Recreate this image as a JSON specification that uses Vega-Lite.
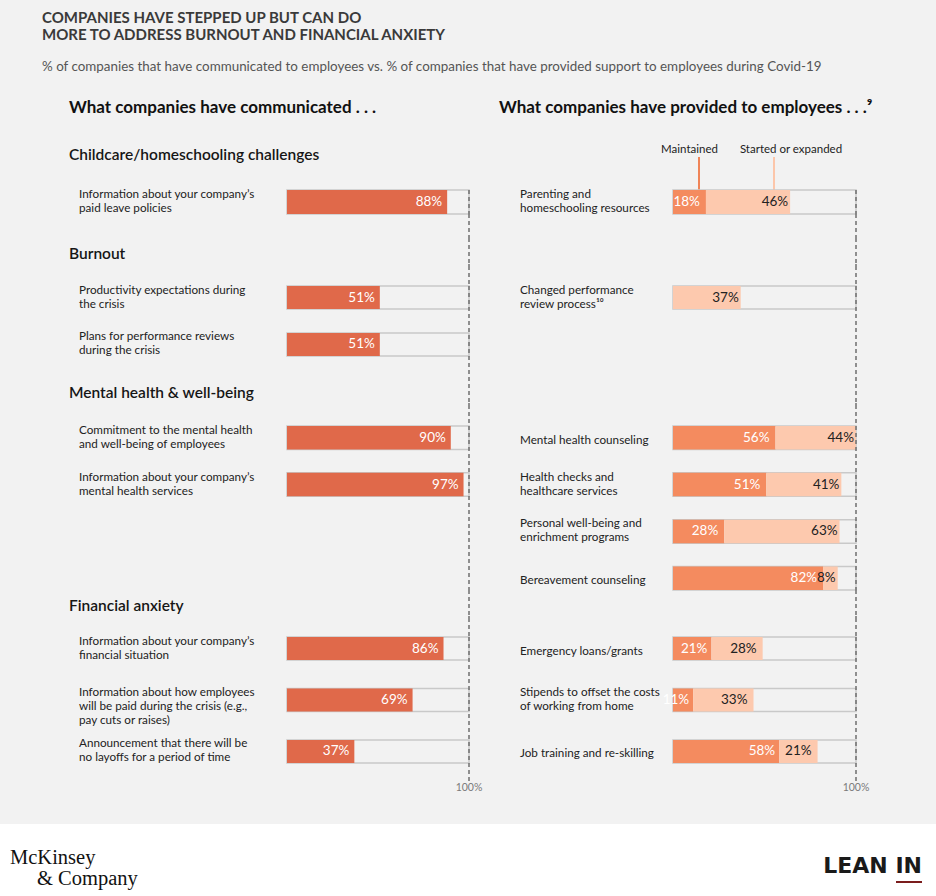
{
"$schema":"https://vega.github.io/schema/vega-lite/v6.json",
"background":"#f2f2f2","padding":0,"spacing":0,"bounds":"flush",
"config":{"view":{"stroke":null},"axis":{"disable":true},"legend":{"disable":true},"text":{"font":"Lato"}},
"datasets":{
"left":[
{"sec":"cc","row":"cc1","label":"Information about your company’s\npaid leave policies","value":0.88},
{"sec":"bo","row":"bo1","label":"Productivity expectations during\nthe crisis","value":0.51},
{"sec":"bo","row":"bo2","label":"Plans for performance reviews\nduring the crisis","value":0.51},
{"sec":"mh","row":"mh1","label":"Commitment to the mental health\nand well-being of employees","value":0.90},
{"sec":"mh","row":"mh2","label":"Information about your company’s\nmental health services","value":0.97},
{"sec":"fa","row":"fa1","label":"Information about your company’s\nfinancial situation","value":0.86},
{"sec":"fa","row":"fa2","label":"Information about how employees\nwill be paid during the crisis (e.g.,\npay cuts or raises)","value":0.69},
{"sec":"fa","row":"fa3","label":"Announcement that there will be\nno layoffs for a period of time","value":0.37}],
"right":[
{"sec":"cc","row":"cc1","label":"Parenting and\nhomeschooling resources"},
{"sec":"bo","row":"bo1","label":"Changed performance\nreview process¹⁰"},
{"sec":"mh","row":"mh1","label":"Mental health counseling"},
{"sec":"mh","row":"mh2","label":"Health checks and\nhealthcare services"},
{"sec":"mh","row":"mh3","label":"Personal well-being and\nenrichment programs"},
{"sec":"mh","row":"mh4","label":"Bereavement counseling"},
{"sec":"fa","row":"fa1","label":"Emergency loans/grants"},
{"sec":"fa","row":"fa2","label":"Stipends to offset the costs\nof working from home"},
{"sec":"fa","row":"fa3","label":"Job training and re-skilling"}],
"parts":[
{"sec":"cc","row":"cc1","part":"Maintained","pct":0.18},
{"sec":"cc","row":"cc1","part":"Started or expanded","pct":0.46},
{"sec":"bo","row":"bo1","part":"Started or expanded","pct":0.37},
{"sec":"mh","row":"mh1","part":"Maintained","pct":0.56},
{"sec":"mh","row":"mh1","part":"Started or expanded","pct":0.44},
{"sec":"mh","row":"mh2","part":"Maintained","pct":0.51},
{"sec":"mh","row":"mh2","part":"Started or expanded","pct":0.41},
{"sec":"mh","row":"mh3","part":"Maintained","pct":0.28},
{"sec":"mh","row":"mh3","part":"Started or expanded","pct":0.63},
{"sec":"mh","row":"mh4","part":"Maintained","pct":0.82},
{"sec":"mh","row":"mh4","part":"Started or expanded","pct":0.08},
{"sec":"fa","row":"fa1","part":"Maintained","pct":0.21},
{"sec":"fa","row":"fa1","part":"Started or expanded","pct":0.28},
{"sec":"fa","row":"fa2","part":"Maintained","pct":0.11},
{"sec":"fa","row":"fa2","part":"Started or expanded","pct":0.33},
{"sec":"fa","row":"fa3","part":"Maintained","pct":0.58},
{"sec":"fa","row":"fa3","part":"Started or expanded","pct":0.21}]
},
"vconcat":[
{"width":936,"height":53,"data":{"values":[{"t":"COMPANIES HAVE STEPPED UP BUT CAN DO\nMORE TO ADDRESS BURNOUT AND FINANCIAL ANXIETY"}]},
 "mark":{"type":"text","align":"left","baseline":"middle","dy":-8.5,"lineBreak":"\n","lineHeight":17,"fontSize":15,"fontWeight":"bold","color":"#3a3a3a"},
 "encoding":{"x":{"datum":-1.34615,"type":"quantitative","scale":{"domain":[-1.576923,3.565934],"nice":false,"zero":false},"axis":null},"text":{"field":"t","type":"nominal"}}},
{"width":936,"height":2,"data":{"values":[{}]},"mark":{"type":"bar","color":"#858585"},
 "encoding":{"x":{"datum":-1.34615,"type":"quantitative","scale":{"domain":[-1.576923,3.565934],"nice":false,"zero":false},"axis":null},"x2":{"datum":3.36813}}},
{"width":936,"height":24,"data":{"values":[{"t":"% of companies that have communicated to employees vs. % of companies that have provided support to employees during Covid-19"}]},
 "mark":{"type":"text","align":"left","baseline":"middle","fontSize":13.4,"color":"#555555"},
 "encoding":{"x":{"datum":-1.34615,"type":"quantitative","scale":{"domain":[-1.576923,3.565934],"nice":false,"zero":false},"axis":null},"text":{"field":"t","type":"nominal"}}},
{"width":936,"height":60,"resolve":{"scale":{"x":"independent"}},"data":{"values":[{"l":"What companies have communicated . . .","r":"What companies have provided to employees . . .⁹"}]},
 "layer":[
 {"mark":{"type":"text","align":"left","baseline":"middle","dy":-1,"fontSize":17,"fontWeight":"bold","color":"#111111"},
  "encoding":{"x":{"datum":-1.1978,"type":"quantitative","scale":{"domain":[-1.576923,3.565934],"nice":false,"zero":false},"axis":null},"text":{"field":"l","type":"nominal"}}},
 {"mark":{"type":"text","align":"left","baseline":"middle","dy":-1,"fontSize":17,"fontWeight":"bold","color":"#111111"},
  "encoding":{"x":{"datum":-0.95082,"type":"quantitative","scale":{"domain":[-3.677596,1.437158],"nice":false,"zero":false},"axis":null},"text":{"field":"r","type":"nominal"}}}]},
{"width":936,"height":18,"resolve":{"scale":{"x":"independent"}},
 "layer":[
 {"data":{"values":[{"section":"Childcare/homeschooling challenges"}]},"mark":{"type":"text","align":"left","baseline":"middle","dy":7,"fontSize":15.5,"fontWeight":600,"color":"#161616"},
  "encoding":{"x":{"datum":-1.1978,"type":"quantitative","scale":{"domain":[-1.576923,3.565934],"nice":false,"zero":false},"axis":null},"text":{"field":"section","type":"nominal"}}},
 {"data":{"values":[{"part":"Maintained"}]},"mark":{"type":"text","align":"center","baseline":"middle","dy":2,"fontSize":11.5,"color":"#222222"},
  "encoding":{"x":{"datum":0.0902,"type":"quantitative","scale":{"domain":[-3.677596,1.437158],"nice":false,"zero":false},"axis":null},"text":{"field":"part","type":"nominal"}}},
 {"data":{"values":[{"part":"Started or expanded"}]},"mark":{"type":"text","align":"center","baseline":"middle","dy":2,"fontSize":11.5,"color":"#222222"},
  "encoding":{"x":{"datum":0.6448,"type":"quantitative","scale":{"domain":[-3.677596,1.437158],"nice":false,"zero":false},"axis":null},"text":{"field":"part","type":"nominal"}}}]},
{"width":936,"height":8,"resolve":{"scale":{"x":"independent"}},"data":{"values":[{}]},
 "layer":[
 {"mark":{"type":"rule","color":"#f08457","strokeWidth":2},"encoding":{"x":{"datum":0.14208,"type":"quantitative","scale":{"domain":[-3.677596,1.437158],"nice":false,"zero":false},"axis":null}}},
 {"mark":{"type":"rule","color":"#fcc6aa","strokeWidth":2},"encoding":{"x":{"datum":0.55191,"type":"quantitative","scale":{"domain":[-3.677596,1.437158],"nice":false,"zero":false},"axis":null}}}]},
{"width":936,"height":2,"resolve":{"scale":{"x":"independent"}},"data":{"values":[{}]},
 "layer":[
 {"mark":{"type":"bar","color":"#858585"},"encoding":{"x":{"datum":-1.1978,"type":"quantitative","scale":{"domain":[-1.576923,3.565934],"nice":false,"zero":false},"axis":null},"x2":{"datum":3.25824}}},
 {"mark":{"type":"rule","color":"#f08457","strokeWidth":2},"encoding":{"x":{"datum":0.14208,"type":"quantitative","scale":{"domain":[-3.677596,1.437158],"nice":false,"zero":false},"axis":null}}},
 {"mark":{"type":"rule","color":"#fcc6aa","strokeWidth":2},"encoding":{"x":{"datum":0.55191,"type":"quantitative","scale":{"domain":[-3.677596,1.437158],"nice":false,"zero":false},"axis":null}}}]},
{"width":936,"height":23,"resolve":{"scale":{"x":"independent"}},"data":{"values":[{}]},
 "layer":[
 {"mark":{"type":"rule","color":"#f08457","strokeWidth":2},"encoding":{"x":{"datum":0.14208,"type":"quantitative","scale":{"domain":[-3.677596,1.437158],"nice":false,"zero":false},"axis":null}}},
 {"mark":{"type":"rule","color":"#fcc6aa","strokeWidth":2},"encoding":{"x":{"datum":0.55191,"type":"quantitative","scale":{"domain":[-3.677596,1.437158],"nice":false,"zero":false},"axis":null}}}]},
{"width":936,"height":24,"resolve":{"scale":{"x":"independent"}},
 "layer":[
 {"data":{"name":"left"},"transform":[{"filter":{"field":"sec","equal":"cc"}}],"mark":{"type":"bar","fill":"transparent","stroke":"#c9c9c9","strokeWidth":1.5},
  "encoding":{"y":{"field":"row","type":"nominal","scale":{"domain":["cc1"],"paddingInner":0,"paddingOuter":0},"axis":null},"x":{"datum":0,"type":"quantitative","scale":{"domain":[-1.576923,3.565934],"nice":false,"zero":false},"axis":null},"x2":{"datum":1}}},
 {"data":{"name":"left"},"transform":[{"filter":{"field":"sec","equal":"cc"}}],"mark":{"type":"bar","color":"#e0694a"},
  "encoding":{"y":{"field":"row","type":"nominal","scale":{"domain":["cc1"],"paddingInner":0,"paddingOuter":0},"axis":null},"x":{"field":"value","type":"quantitative","scale":{"domain":[-1.576923,3.565934],"nice":false,"zero":false},"axis":null}}},
 {"data":{"name":"left"},"transform":[{"filter":{"field":"sec","equal":"cc"}}],"mark":{"type":"text","align":"right","baseline":"middle","dx":-5,"fontSize":13.5,"color":"#ffffff"},
  "encoding":{"y":{"field":"row","type":"nominal","scale":{"domain":["cc1"],"paddingInner":0,"paddingOuter":0},"axis":null},"x":{"field":"value","type":"quantitative","scale":{"domain":[-1.576923,3.565934],"nice":false,"zero":false},"axis":null},"text":{"field":"value","type":"quantitative","format":".0%"}}},
 {"data":{"name":"left"},"transform":[{"filter":{"field":"sec","equal":"cc"}}],"mark":{"type":"text","align":"left","baseline":"middle","dy":-8,"fontSize":11.7,"lineHeight":14,"lineBreak":"\n","color":"#222222"},
  "encoding":{"y":{"field":"row","type":"nominal","scale":{"domain":["cc1"],"paddingInner":0,"paddingOuter":0},"axis":null},"x":{"datum":-1.14286,"type":"quantitative","scale":{"domain":[-1.576923,3.565934],"nice":false,"zero":false},"axis":null},"text":{"field":"label","type":"nominal"}}},
 {"data":{"name":"right"},"transform":[{"filter":{"field":"sec","equal":"cc"}}],"mark":{"type":"bar","fill":"transparent","stroke":"#c9c9c9","strokeWidth":1.5},
  "encoding":{"y":{"field":"row","type":"nominal","scale":{"domain":["cc1"],"paddingInner":0,"paddingOuter":0},"axis":null},"x":{"datum":0,"type":"quantitative","scale":{"domain":[-3.677596,1.437158],"nice":false,"zero":false},"axis":null},"x2":{"datum":1}}},
 {"data":{"name":"parts"},"transform":[{"filter":{"field":"sec","equal":"cc"}}],"mark":{"type":"bar"},
  "encoding":{"y":{"field":"row","type":"nominal","scale":{"domain":["cc1"],"paddingInner":0,"paddingOuter":0},"axis":null},"x":{"field":"pct","type":"quantitative","stack":"zero","scale":{"domain":[-3.677596,1.437158],"nice":false,"zero":false},"axis":null},"color":{"field":"part","type":"nominal","scale":{"domain":["Maintained","Started or expanded"],"range":["#f48b5f","#fdc9ae"]},"legend":null},"order":{"field":"part","type":"ordinal","sort":"ascending"}}},
 {"data":{"name":"parts"},"transform":[{"filter":{"field":"sec","equal":"cc"}},{"stack":"pct","groupby":["row"],"sort":[{"field":"part","order":"ascending"}],"as":["s0","s1"]},{"filter":{"field":"part","equal":"Maintained"}}],"mark":{"type":"text","align":"right","baseline":"middle","dx":-6,"fontSize":13.5,"color":"#ffffff"},
  "encoding":{"y":{"field":"row","type":"nominal","scale":{"domain":["cc1"],"paddingInner":0,"paddingOuter":0},"axis":null},"x":{"field":"s1","type":"quantitative","scale":{"domain":[-3.677596,1.437158],"nice":false,"zero":false},"axis":null},"text":{"field":"pct","type":"quantitative","format":".0%"}}},
 {"data":{"name":"parts"},"transform":[{"filter":{"field":"sec","equal":"cc"}},{"stack":"pct","groupby":["row"],"sort":[{"field":"part","order":"ascending"}],"as":["s0","s1"]},{"filter":{"field":"part","equal":"Started or expanded"}}],"mark":{"type":"text","align":"right","baseline":"middle","dx":-2,"fontSize":13.5,"color":"#222222"},
  "encoding":{"y":{"field":"row","type":"nominal","scale":{"domain":["cc1"],"paddingInner":0,"paddingOuter":0},"axis":null},"x":{"field":"s1","type":"quantitative","scale":{"domain":[-3.677596,1.437158],"nice":false,"zero":false},"axis":null},"text":{"field":"pct","type":"quantitative","format":".0%"}}},
 {"data":{"name":"right"},"transform":[{"filter":{"field":"sec","equal":"cc"}}],"mark":{"type":"text","align":"left","baseline":"middle","dy":-8,"fontSize":11.7,"lineHeight":14,"lineBreak":"\n","color":"#222222"},
  "encoding":{"y":{"field":"row","type":"nominal","scale":{"domain":["cc1"],"paddingInner":0,"paddingOuter":0},"axis":null},"x":{"datum":-0.83607,"type":"quantitative","scale":{"domain":[-3.677596,1.437158],"nice":false,"zero":false},"axis":null},"text":{"field":"label","type":"nominal"}}},
 {"data":{"values":[{}]},"mark":{"type":"rule","color":"#6f6f6f","strokeWidth":1.5,"strokeDash":[4,3]},"encoding":{"x":{"datum":1,"type":"quantitative","scale":{"domain":[-1.576923,3.565934],"nice":false,"zero":false},"axis":null}}},
 {"data":{"values":[{}]},"mark":{"type":"rule","color":"#6f6f6f","strokeWidth":1.5,"strokeDash":[4,3]},"encoding":{"x":{"datum":1,"type":"quantitative","scale":{"domain":[-3.677596,1.437158],"nice":false,"zero":false},"axis":null}}}]},
{"width":936,"height":24,"resolve":{"scale":{"x":"independent"}},"data":{"values":[{}]},
 "layer":[
 {"mark":{"type":"rule","color":"#6f6f6f","strokeWidth":1.5,"strokeDash":[4,3]},"encoding":{"x":{"datum":1,"type":"quantitative","scale":{"domain":[-1.576923,3.565934],"nice":false,"zero":false},"axis":null}}},
 {"mark":{"type":"rule","color":"#6f6f6f","strokeWidth":1.5,"strokeDash":[4,3]},"encoding":{"x":{"datum":1,"type":"quantitative","scale":{"domain":[-3.677596,1.437158],"nice":false,"zero":false},"axis":null}}}]},
{"width":936,"height":26,"resolve":{"scale":{"x":"independent"}},"data":{"values":[{"section":"Burnout"}]},
 "layer":[
 {"mark":{"type":"rule","color":"#6f6f6f","strokeWidth":1.5,"strokeDash":[4,3]},"encoding":{"x":{"datum":1,"type":"quantitative","scale":{"domain":[-1.576923,3.565934],"nice":false,"zero":false},"axis":null}}},
 {"mark":{"type":"rule","color":"#6f6f6f","strokeWidth":1.5,"strokeDash":[4,3]},"encoding":{"x":{"datum":1,"type":"quantitative","scale":{"domain":[-3.677596,1.437158],"nice":false,"zero":false},"axis":null}}},
 {"mark":{"type":"text","align":"left","baseline":"middle","dy":3,"fontSize":15.5,"fontWeight":600,"color":"#161616"},"encoding":{"x":{"datum":-1.1978,"type":"quantitative","scale":{"domain":[-1.576923,3.565934],"nice":false,"zero":false},"axis":null},"text":{"field":"section","type":"nominal"}}}]},
{"width":936,"height":2,"resolve":{"scale":{"x":"independent"}},"data":{"values":[{}]},
 "layer":[
 {"mark":{"type":"bar","color":"#858585"},"encoding":{"x":{"datum":-1.1978,"type":"quantitative","scale":{"domain":[-1.576923,3.565934],"nice":false,"zero":false},"axis":null},"x2":{"datum":3.25824}}},
 {"mark":{"type":"rule","color":"#6f6f6f","strokeWidth":1.5},"encoding":{"x":{"datum":1,"type":"quantitative","scale":{"domain":[-1.576923,3.565934],"nice":false,"zero":false},"axis":null}}},
 {"mark":{"type":"rule","color":"#6f6f6f","strokeWidth":1.5},"encoding":{"x":{"datum":1,"type":"quantitative","scale":{"domain":[-3.677596,1.437158],"nice":false,"zero":false},"axis":null}}}]},
{"width":936,"height":20,"resolve":{"scale":{"x":"independent"}},"data":{"values":[{}]},
 "layer":[
 {"mark":{"type":"rule","color":"#6f6f6f","strokeWidth":1.5,"strokeDash":[4,3]},"encoding":{"x":{"datum":1,"type":"quantitative","scale":{"domain":[-1.576923,3.565934],"nice":false,"zero":false},"axis":null}}},
 {"mark":{"type":"rule","color":"#6f6f6f","strokeWidth":1.5,"strokeDash":[4,3]},"encoding":{"x":{"datum":1,"type":"quantitative","scale":{"domain":[-3.677596,1.437158],"nice":false,"zero":false},"axis":null}}}]},
{"width":936,"height":70,"resolve":{"scale":{"x":"independent"}},
 "layer":[
 {"data":{"name":"left"},"transform":[{"filter":{"field":"sec","equal":"bo"}}],"mark":{"type":"bar","fill":"transparent","stroke":"#c9c9c9","strokeWidth":1.5},
  "encoding":{"y":{"field":"row","type":"nominal","scale":{"domain":["bo1","bo2"],"paddingInner":0.51,"paddingOuter":0},"axis":null},"x":{"datum":0,"type":"quantitative","scale":{"domain":[-1.576923,3.565934],"nice":false,"zero":false},"axis":null},"x2":{"datum":1}}},
 {"data":{"name":"left"},"transform":[{"filter":{"field":"sec","equal":"bo"}}],"mark":{"type":"bar","color":"#e0694a"},
  "encoding":{"y":{"field":"row","type":"nominal","scale":{"domain":["bo1","bo2"],"paddingInner":0.51,"paddingOuter":0},"axis":null},"x":{"field":"value","type":"quantitative","scale":{"domain":[-1.576923,3.565934],"nice":false,"zero":false},"axis":null}}},
 {"data":{"name":"left"},"transform":[{"filter":{"field":"sec","equal":"bo"}}],"mark":{"type":"text","align":"right","baseline":"middle","dx":-5,"fontSize":13.5,"color":"#ffffff"},
  "encoding":{"y":{"field":"row","type":"nominal","scale":{"domain":["bo1","bo2"],"paddingInner":0.51,"paddingOuter":0},"axis":null},"x":{"field":"value","type":"quantitative","scale":{"domain":[-1.576923,3.565934],"nice":false,"zero":false},"axis":null},"text":{"field":"value","type":"quantitative","format":".0%"}}},
 {"data":{"name":"left"},"transform":[{"filter":{"field":"sec","equal":"bo"}}],"mark":{"type":"text","align":"left","baseline":"middle","dy":-8,"fontSize":11.7,"lineHeight":14,"lineBreak":"\n","color":"#222222"},
  "encoding":{"y":{"field":"row","type":"nominal","scale":{"domain":["bo1","bo2"],"paddingInner":0.51,"paddingOuter":0},"axis":null},"x":{"datum":-1.14286,"type":"quantitative","scale":{"domain":[-1.576923,3.565934],"nice":false,"zero":false},"axis":null},"text":{"field":"label","type":"nominal"}}},
 {"data":{"name":"right"},"transform":[{"filter":{"field":"sec","equal":"bo"}}],"mark":{"type":"bar","fill":"transparent","stroke":"#c9c9c9","strokeWidth":1.5},
  "encoding":{"y":{"field":"row","type":"nominal","scale":{"domain":["bo1","bo2"],"paddingInner":0.51,"paddingOuter":0},"axis":null},"x":{"datum":0,"type":"quantitative","scale":{"domain":[-3.677596,1.437158],"nice":false,"zero":false},"axis":null},"x2":{"datum":1}}},
 {"data":{"name":"parts"},"transform":[{"filter":{"field":"sec","equal":"bo"}}],"mark":{"type":"bar"},
  "encoding":{"y":{"field":"row","type":"nominal","scale":{"domain":["bo1","bo2"],"paddingInner":0.51,"paddingOuter":0},"axis":null},"x":{"field":"pct","type":"quantitative","stack":"zero","scale":{"domain":[-3.677596,1.437158],"nice":false,"zero":false},"axis":null},"color":{"field":"part","type":"nominal","scale":{"domain":["Maintained","Started or expanded"],"range":["#f48b5f","#fdc9ae"]},"legend":null},"order":{"field":"part","type":"ordinal","sort":"ascending"}}},
 {"data":{"name":"parts"},"transform":[{"filter":{"field":"sec","equal":"bo"}},{"stack":"pct","groupby":["row"],"sort":[{"field":"part","order":"ascending"}],"as":["s0","s1"]},{"filter":{"field":"part","equal":"Started or expanded"}}],"mark":{"type":"text","align":"right","baseline":"middle","dx":-2,"fontSize":13.5,"color":"#222222"},
  "encoding":{"y":{"field":"row","type":"nominal","scale":{"domain":["bo1","bo2"],"paddingInner":0.51,"paddingOuter":0},"axis":null},"x":{"field":"s1","type":"quantitative","scale":{"domain":[-3.677596,1.437158],"nice":false,"zero":false},"axis":null},"text":{"field":"pct","type":"quantitative","format":".0%"}}},
 {"data":{"name":"right"},"transform":[{"filter":{"field":"sec","equal":"bo"}}],"mark":{"type":"text","align":"left","baseline":"middle","dy":-8,"fontSize":11.7,"lineHeight":14,"lineBreak":"\n","color":"#222222"},
  "encoding":{"y":{"field":"row","type":"nominal","scale":{"domain":["bo1","bo2"],"paddingInner":0.51,"paddingOuter":0},"axis":null},"x":{"datum":-0.83607,"type":"quantitative","scale":{"domain":[-3.677596,1.437158],"nice":false,"zero":false},"axis":null},"text":{"field":"label","type":"nominal"}}},
 {"data":{"values":[{}]},"mark":{"type":"rule","color":"#6f6f6f","strokeWidth":1.5,"strokeDash":[4,3]},"encoding":{"x":{"datum":1,"type":"quantitative","scale":{"domain":[-1.576923,3.565934],"nice":false,"zero":false},"axis":null}}},
 {"data":{"values":[{}]},"mark":{"type":"rule","color":"#6f6f6f","strokeWidth":1.5,"strokeDash":[4,3]},"encoding":{"x":{"datum":1,"type":"quantitative","scale":{"domain":[-3.677596,1.437158],"nice":false,"zero":false},"axis":null}}}]},
{"width":936,"height":21,"resolve":{"scale":{"x":"independent"}},"data":{"values":[{}]},
 "layer":[
 {"mark":{"type":"rule","color":"#6f6f6f","strokeWidth":1.5,"strokeDash":[4,3]},"encoding":{"x":{"datum":1,"type":"quantitative","scale":{"domain":[-1.576923,3.565934],"nice":false,"zero":false},"axis":null}}},
 {"mark":{"type":"rule","color":"#6f6f6f","strokeWidth":1.5,"strokeDash":[4,3]},"encoding":{"x":{"datum":1,"type":"quantitative","scale":{"domain":[-3.677596,1.437158],"nice":false,"zero":false},"axis":null}}}]},
{"width":936,"height":26,"resolve":{"scale":{"x":"independent"}},"data":{"values":[{"section":"Mental health & well-being"}]},
 "layer":[
 {"mark":{"type":"rule","color":"#6f6f6f","strokeWidth":1.5,"strokeDash":[4,3]},"encoding":{"x":{"datum":1,"type":"quantitative","scale":{"domain":[-1.576923,3.565934],"nice":false,"zero":false},"axis":null}}},
 {"mark":{"type":"rule","color":"#6f6f6f","strokeWidth":1.5,"strokeDash":[4,3]},"encoding":{"x":{"datum":1,"type":"quantitative","scale":{"domain":[-3.677596,1.437158],"nice":false,"zero":false},"axis":null}}},
 {"mark":{"type":"text","align":"left","baseline":"middle","dy":3,"fontSize":15.5,"fontWeight":600,"color":"#161616"},"encoding":{"x":{"datum":-1.1978,"type":"quantitative","scale":{"domain":[-1.576923,3.565934],"nice":false,"zero":false},"axis":null},"text":{"field":"section","type":"nominal"}}}]},
{"width":936,"height":2,"resolve":{"scale":{"x":"independent"}},"data":{"values":[{}]},
 "layer":[
 {"mark":{"type":"bar","color":"#858585"},"encoding":{"x":{"datum":-1.1978,"type":"quantitative","scale":{"domain":[-1.576923,3.565934],"nice":false,"zero":false},"axis":null},"x2":{"datum":3.25824}}},
 {"mark":{"type":"rule","color":"#6f6f6f","strokeWidth":1.5},"encoding":{"x":{"datum":1,"type":"quantitative","scale":{"domain":[-1.576923,3.565934],"nice":false,"zero":false},"axis":null}}},
 {"mark":{"type":"rule","color":"#6f6f6f","strokeWidth":1.5},"encoding":{"x":{"datum":1,"type":"quantitative","scale":{"domain":[-3.677596,1.437158],"nice":false,"zero":false},"axis":null}}}]},
{"width":936,"height":21,"resolve":{"scale":{"x":"independent"}},"data":{"values":[{}]},
 "layer":[
 {"mark":{"type":"rule","color":"#6f6f6f","strokeWidth":1.5,"strokeDash":[4,3]},"encoding":{"x":{"datum":1,"type":"quantitative","scale":{"domain":[-1.576923,3.565934],"nice":false,"zero":false},"axis":null}}},
 {"mark":{"type":"rule","color":"#6f6f6f","strokeWidth":1.5,"strokeDash":[4,3]},"encoding":{"x":{"datum":1,"type":"quantitative","scale":{"domain":[-3.677596,1.437158],"nice":false,"zero":false},"axis":null}}}]},
{"width":936,"height":164,"resolve":{"scale":{"x":"independent"}},
 "layer":[
 {"data":{"name":"left"},"transform":[{"filter":{"field":"sec","equal":"mh"}}],"mark":{"type":"bar","fill":"transparent","stroke":"#c9c9c9","strokeWidth":1.5},
  "encoding":{"y":{"field":"row","type":"nominal","scale":{"domain":["mh1","mh2","mh3","mh4"],"paddingInner":0.498,"paddingOuter":0},"axis":null},"x":{"datum":0,"type":"quantitative","scale":{"domain":[-1.576923,3.565934],"nice":false,"zero":false},"axis":null},"x2":{"datum":1}}},
 {"data":{"name":"left"},"transform":[{"filter":{"field":"sec","equal":"mh"}}],"mark":{"type":"bar","color":"#e0694a"},
  "encoding":{"y":{"field":"row","type":"nominal","scale":{"domain":["mh1","mh2","mh3","mh4"],"paddingInner":0.498,"paddingOuter":0},"axis":null},"x":{"field":"value","type":"quantitative","scale":{"domain":[-1.576923,3.565934],"nice":false,"zero":false},"axis":null}}},
 {"data":{"name":"left"},"transform":[{"filter":{"field":"sec","equal":"mh"}}],"mark":{"type":"text","align":"right","baseline":"middle","dx":-5,"fontSize":13.5,"color":"#ffffff"},
  "encoding":{"y":{"field":"row","type":"nominal","scale":{"domain":["mh1","mh2","mh3","mh4"],"paddingInner":0.498,"paddingOuter":0},"axis":null},"x":{"field":"value","type":"quantitative","scale":{"domain":[-1.576923,3.565934],"nice":false,"zero":false},"axis":null},"text":{"field":"value","type":"quantitative","format":".0%"}}},
 {"data":{"name":"left"},"transform":[{"filter":{"field":"sec","equal":"mh"}}],"mark":{"type":"text","align":"left","baseline":"middle","dy":-8,"fontSize":11.7,"lineHeight":14,"lineBreak":"\n","color":"#222222"},
  "encoding":{"y":{"field":"row","type":"nominal","scale":{"domain":["mh1","mh2","mh3","mh4"],"paddingInner":0.498,"paddingOuter":0},"axis":null},"x":{"datum":-1.14286,"type":"quantitative","scale":{"domain":[-1.576923,3.565934],"nice":false,"zero":false},"axis":null},"text":{"field":"label","type":"nominal"}}},
 {"data":{"name":"right"},"transform":[{"filter":{"field":"sec","equal":"mh"}}],"mark":{"type":"bar","fill":"transparent","stroke":"#c9c9c9","strokeWidth":1.5},
  "encoding":{"y":{"field":"row","type":"nominal","scale":{"domain":["mh1","mh2","mh3","mh4"],"paddingInner":0.498,"paddingOuter":0},"axis":null},"x":{"datum":0,"type":"quantitative","scale":{"domain":[-3.677596,1.437158],"nice":false,"zero":false},"axis":null},"x2":{"datum":1}}},
 {"data":{"name":"parts"},"transform":[{"filter":{"field":"sec","equal":"mh"}}],"mark":{"type":"bar"},
  "encoding":{"y":{"field":"row","type":"nominal","scale":{"domain":["mh1","mh2","mh3","mh4"],"paddingInner":0.498,"paddingOuter":0},"axis":null},"x":{"field":"pct","type":"quantitative","stack":"zero","scale":{"domain":[-3.677596,1.437158],"nice":false,"zero":false},"axis":null},"color":{"field":"part","type":"nominal","scale":{"domain":["Maintained","Started or expanded"],"range":["#f48b5f","#fdc9ae"]},"legend":null},"order":{"field":"part","type":"ordinal","sort":"ascending"}}},
 {"data":{"name":"parts"},"transform":[{"filter":{"field":"sec","equal":"mh"}},{"stack":"pct","groupby":["row"],"sort":[{"field":"part","order":"ascending"}],"as":["s0","s1"]},{"filter":{"field":"part","equal":"Maintained"}}],"mark":{"type":"text","align":"right","baseline":"middle","dx":-6,"fontSize":13.5,"color":"#ffffff"},
  "encoding":{"y":{"field":"row","type":"nominal","scale":{"domain":["mh1","mh2","mh3","mh4"],"paddingInner":0.498,"paddingOuter":0},"axis":null},"x":{"field":"s1","type":"quantitative","scale":{"domain":[-3.677596,1.437158],"nice":false,"zero":false},"axis":null},"text":{"field":"pct","type":"quantitative","format":".0%"}}},
 {"data":{"name":"parts"},"transform":[{"filter":{"field":"sec","equal":"mh"}},{"stack":"pct","groupby":["row"],"sort":[{"field":"part","order":"ascending"}],"as":["s0","s1"]},{"filter":{"field":"part","equal":"Started or expanded"}}],"mark":{"type":"text","align":"right","baseline":"middle","dx":-2,"fontSize":13.5,"color":"#222222"},
  "encoding":{"y":{"field":"row","type":"nominal","scale":{"domain":["mh1","mh2","mh3","mh4"],"paddingInner":0.498,"paddingOuter":0},"axis":null},"x":{"field":"s1","type":"quantitative","scale":{"domain":[-3.677596,1.437158],"nice":false,"zero":false},"axis":null},"text":{"field":"pct","type":"quantitative","format":".0%"}}},
 {"data":{"name":"right"},"transform":[{"filter":{"field":"sec","equal":"mh"}},{"filter":"indexof(datum.label, '\\n') >= 0"}],"mark":{"type":"text","align":"left","baseline":"middle","dy":-8,"fontSize":11.7,"lineHeight":14,"lineBreak":"\n","color":"#222222"},
  "encoding":{"y":{"field":"row","type":"nominal","scale":{"domain":["mh1","mh2","mh3","mh4"],"paddingInner":0.498,"paddingOuter":0},"axis":null},"x":{"datum":-0.83607,"type":"quantitative","scale":{"domain":[-3.677596,1.437158],"nice":false,"zero":false},"axis":null},"text":{"field":"label","type":"nominal"}}},
 {"data":{"name":"right"},"transform":[{"filter":{"field":"sec","equal":"mh"}},{"filter":"indexof(datum.label, '\\n') < 0"}],"mark":{"type":"text","align":"left","baseline":"middle","dy":2,"fontSize":11.7,"color":"#222222"},
  "encoding":{"y":{"field":"row","type":"nominal","scale":{"domain":["mh1","mh2","mh3","mh4"],"paddingInner":0.498,"paddingOuter":0},"axis":null},"x":{"datum":-0.83607,"type":"quantitative","scale":{"domain":[-3.677596,1.437158],"nice":false,"zero":false},"axis":null},"text":{"field":"label","type":"nominal"}}},
 {"data":{"values":[{}]},"mark":{"type":"rule","color":"#6f6f6f","strokeWidth":1.5,"strokeDash":[4,3]},"encoding":{"x":{"datum":1,"type":"quantitative","scale":{"domain":[-1.576923,3.565934],"nice":false,"zero":false},"axis":null}}},
 {"data":{"values":[{}]},"mark":{"type":"rule","color":"#6f6f6f","strokeWidth":1.5,"strokeDash":[4,3]},"encoding":{"x":{"datum":1,"type":"quantitative","scale":{"domain":[-3.677596,1.437158],"nice":false,"zero":false},"axis":null}}}]},
{"width":936,"height":26,"resolve":{"scale":{"x":"independent"}},"data":{"values":[{"section":"Financial anxiety"}]},
 "layer":[
 {"mark":{"type":"rule","color":"#6f6f6f","strokeWidth":1.5,"strokeDash":[4,3]},"encoding":{"x":{"datum":1,"type":"quantitative","scale":{"domain":[-1.576923,3.565934],"nice":false,"zero":false},"axis":null}}},
 {"mark":{"type":"rule","color":"#6f6f6f","strokeWidth":1.5,"strokeDash":[4,3]},"encoding":{"x":{"datum":1,"type":"quantitative","scale":{"domain":[-3.677596,1.437158],"nice":false,"zero":false},"axis":null}}},
 {"mark":{"type":"text","align":"left","baseline":"middle","dy":3,"fontSize":15.5,"fontWeight":600,"color":"#161616"},"encoding":{"x":{"datum":-1.1978,"type":"quantitative","scale":{"domain":[-1.576923,3.565934],"nice":false,"zero":false},"axis":null},"text":{"field":"section","type":"nominal"}}}]},
{"width":936,"height":2,"resolve":{"scale":{"x":"independent"}},"data":{"values":[{}]},
 "layer":[
 {"mark":{"type":"bar","color":"#858585"},"encoding":{"x":{"datum":-1.1978,"type":"quantitative","scale":{"domain":[-1.576923,3.565934],"nice":false,"zero":false},"axis":null},"x2":{"datum":3.25824}}},
 {"mark":{"type":"rule","color":"#6f6f6f","strokeWidth":1.5},"encoding":{"x":{"datum":1,"type":"quantitative","scale":{"domain":[-1.576923,3.565934],"nice":false,"zero":false},"axis":null}}},
 {"mark":{"type":"rule","color":"#6f6f6f","strokeWidth":1.5},"encoding":{"x":{"datum":1,"type":"quantitative","scale":{"domain":[-3.677596,1.437158],"nice":false,"zero":false},"axis":null}}}]},
{"width":936,"height":19,"resolve":{"scale":{"x":"independent"}},"data":{"values":[{}]},
 "layer":[
 {"mark":{"type":"rule","color":"#6f6f6f","strokeWidth":1.5,"strokeDash":[4,3]},"encoding":{"x":{"datum":1,"type":"quantitative","scale":{"domain":[-1.576923,3.565934],"nice":false,"zero":false},"axis":null}}},
 {"mark":{"type":"rule","color":"#6f6f6f","strokeWidth":1.5,"strokeDash":[4,3]},"encoding":{"x":{"datum":1,"type":"quantitative","scale":{"domain":[-3.677596,1.437158],"nice":false,"zero":false},"axis":null}}}]},
{"width":936,"height":126,"resolve":{"scale":{"x":"independent"}},
 "layer":[
 {"data":{"name":"left"},"transform":[{"filter":{"field":"sec","equal":"fa"}}],"mark":{"type":"bar","fill":"transparent","stroke":"#c9c9c9","strokeWidth":1.5},
  "encoding":{"y":{"field":"row","type":"nominal","scale":{"domain":["fa1","fa2","fa3"],"paddingInner":0.553,"paddingOuter":0},"axis":null},"x":{"datum":0,"type":"quantitative","scale":{"domain":[-1.576923,3.565934],"nice":false,"zero":false},"axis":null},"x2":{"datum":1}}},
 {"data":{"name":"left"},"transform":[{"filter":{"field":"sec","equal":"fa"}}],"mark":{"type":"bar","color":"#e0694a"},
  "encoding":{"y":{"field":"row","type":"nominal","scale":{"domain":["fa1","fa2","fa3"],"paddingInner":0.553,"paddingOuter":0},"axis":null},"x":{"field":"value","type":"quantitative","scale":{"domain":[-1.576923,3.565934],"nice":false,"zero":false},"axis":null}}},
 {"data":{"name":"left"},"transform":[{"filter":{"field":"sec","equal":"fa"}}],"mark":{"type":"text","align":"right","baseline":"middle","dx":-5,"fontSize":13.5,"color":"#ffffff"},
  "encoding":{"y":{"field":"row","type":"nominal","scale":{"domain":["fa1","fa2","fa3"],"paddingInner":0.553,"paddingOuter":0},"axis":null},"x":{"field":"value","type":"quantitative","scale":{"domain":[-1.576923,3.565934],"nice":false,"zero":false},"axis":null},"text":{"field":"value","type":"quantitative","format":".0%"}}},
 {"data":{"name":"left"},"transform":[{"filter":{"field":"sec","equal":"fa"}}],"mark":{"type":"text","align":"left","baseline":"middle","dy":-8,"fontSize":11.7,"lineHeight":14,"lineBreak":"\n","color":"#222222"},
  "encoding":{"y":{"field":"row","type":"nominal","scale":{"domain":["fa1","fa2","fa3"],"paddingInner":0.553,"paddingOuter":0},"axis":null},"x":{"datum":-1.14286,"type":"quantitative","scale":{"domain":[-1.576923,3.565934],"nice":false,"zero":false},"axis":null},"text":{"field":"label","type":"nominal"}}},
 {"data":{"name":"right"},"transform":[{"filter":{"field":"sec","equal":"fa"}}],"mark":{"type":"bar","fill":"transparent","stroke":"#c9c9c9","strokeWidth":1.5},
  "encoding":{"y":{"field":"row","type":"nominal","scale":{"domain":["fa1","fa2","fa3"],"paddingInner":0.553,"paddingOuter":0},"axis":null},"x":{"datum":0,"type":"quantitative","scale":{"domain":[-3.677596,1.437158],"nice":false,"zero":false},"axis":null},"x2":{"datum":1}}},
 {"data":{"name":"parts"},"transform":[{"filter":{"field":"sec","equal":"fa"}}],"mark":{"type":"bar"},
  "encoding":{"y":{"field":"row","type":"nominal","scale":{"domain":["fa1","fa2","fa3"],"paddingInner":0.553,"paddingOuter":0},"axis":null},"x":{"field":"pct","type":"quantitative","stack":"zero","scale":{"domain":[-3.677596,1.437158],"nice":false,"zero":false},"axis":null},"color":{"field":"part","type":"nominal","scale":{"domain":["Maintained","Started or expanded"],"range":["#f48b5f","#fdc9ae"]},"legend":null},"order":{"field":"part","type":"ordinal","sort":"ascending"}}},
 {"data":{"name":"parts"},"transform":[{"filter":{"field":"sec","equal":"fa"}},{"stack":"pct","groupby":["row"],"sort":[{"field":"part","order":"ascending"}],"as":["s0","s1"]},{"filter":{"field":"part","equal":"Maintained"}}],"mark":{"type":"text","align":"right","baseline":"middle","dx":-4,"fontSize":13.5,"color":"#ffffff"},
  "encoding":{"y":{"field":"row","type":"nominal","scale":{"domain":["fa1","fa2","fa3"],"paddingInner":0.553,"paddingOuter":0},"axis":null},"x":{"field":"s1","type":"quantitative","scale":{"domain":[-3.677596,1.437158],"nice":false,"zero":false},"axis":null},"text":{"field":"pct","type":"quantitative","format":".0%"}}},
 {"data":{"name":"parts"},"transform":[{"filter":{"field":"sec","equal":"fa"}},{"stack":"pct","groupby":["row"],"sort":[{"field":"part","order":"ascending"}],"as":["s0","s1"]},{"filter":{"field":"part","equal":"Started or expanded"}}],"mark":{"type":"text","align":"right","baseline":"middle","dx":-6,"fontSize":13.5,"color":"#222222"},
  "encoding":{"y":{"field":"row","type":"nominal","scale":{"domain":["fa1","fa2","fa3"],"paddingInner":0.553,"paddingOuter":0},"axis":null},"x":{"field":"s1","type":"quantitative","scale":{"domain":[-3.677596,1.437158],"nice":false,"zero":false},"axis":null},"text":{"field":"pct","type":"quantitative","format":".0%"}}},
 {"data":{"name":"right"},"transform":[{"filter":{"field":"sec","equal":"fa"}},{"filter":"indexof(datum.label, '\\n') >= 0"}],"mark":{"type":"text","align":"left","baseline":"middle","dy":-8,"fontSize":11.7,"lineHeight":14,"lineBreak":"\n","color":"#222222"},
  "encoding":{"y":{"field":"row","type":"nominal","scale":{"domain":["fa1","fa2","fa3"],"paddingInner":0.553,"paddingOuter":0},"axis":null},"x":{"datum":-0.83607,"type":"quantitative","scale":{"domain":[-3.677596,1.437158],"nice":false,"zero":false},"axis":null},"text":{"field":"label","type":"nominal"}}},
 {"data":{"name":"right"},"transform":[{"filter":{"field":"sec","equal":"fa"}},{"filter":"indexof(datum.label, '\\n') < 0"}],"mark":{"type":"text","align":"left","baseline":"middle","dy":2,"fontSize":11.7,"color":"#222222"},
  "encoding":{"y":{"field":"row","type":"nominal","scale":{"domain":["fa1","fa2","fa3"],"paddingInner":0.553,"paddingOuter":0},"axis":null},"x":{"datum":-0.83607,"type":"quantitative","scale":{"domain":[-3.677596,1.437158],"nice":false,"zero":false},"axis":null},"text":{"field":"label","type":"nominal"}}},
 {"data":{"values":[{}]},"mark":{"type":"rule","color":"#6f6f6f","strokeWidth":1.5,"strokeDash":[4,3]},"encoding":{"x":{"datum":1,"type":"quantitative","scale":{"domain":[-1.576923,3.565934],"nice":false,"zero":false},"axis":null}}},
 {"data":{"values":[{}]},"mark":{"type":"rule","color":"#6f6f6f","strokeWidth":1.5,"strokeDash":[4,3]},"encoding":{"x":{"datum":1,"type":"quantitative","scale":{"domain":[-3.677596,1.437158],"nice":false,"zero":false},"axis":null}}}]},
{"width":936,"height":18,"resolve":{"scale":{"x":"independent"}},"data":{"values":[{}]},
 "layer":[
 {"mark":{"type":"rule","color":"#6f6f6f","strokeWidth":1.5,"strokeDash":[4,3]},"encoding":{"x":{"datum":1,"type":"quantitative","scale":{"domain":[-1.576923,3.565934],"nice":false,"zero":false},"axis":null}}},
 {"mark":{"type":"rule","color":"#6f6f6f","strokeWidth":1.5,"strokeDash":[4,3]},"encoding":{"x":{"datum":1,"type":"quantitative","scale":{"domain":[-3.677596,1.437158],"nice":false,"zero":false},"axis":null}}}]},
{"width":936,"height":41,"resolve":{"scale":{"x":"independent"}},"data":{"values":[{"t":"100%"}]},
 "layer":[
 {"mark":{"type":"text","align":"center","baseline":"middle","dy":-13.5,"fontSize":10.5,"color":"#7a7a7a"},"encoding":{"x":{"datum":1,"type":"quantitative","scale":{"domain":[-1.576923,3.565934],"nice":false,"zero":false},"axis":null},"text":{"field":"t","type":"nominal"}}},
 {"mark":{"type":"text","align":"center","baseline":"middle","dy":-13.5,"fontSize":10.5,"color":"#7a7a7a"},"encoding":{"x":{"datum":1,"type":"quantitative","scale":{"domain":[-3.677596,1.437158],"nice":false,"zero":false},"axis":null},"text":{"field":"t","type":"nominal"}}}]},
{"width":936,"height":2,"data":{"values":[{}]},"mark":{"type":"bar","color":"#1d2a3e"},
 "encoding":{"x":{"datum":-1.52198,"type":"quantitative","scale":{"domain":[-1.576923,3.565934],"nice":false,"zero":false},"axis":null},"x2":{"datum":3.48901}}},
{"width":936,"height":72,"view":{"fill":"#ffffff"},"data":{"values":[{"a":"McKinsey","b":"& Company","c":"LEAN IN"}]},
 "layer":[
 {"mark":{"type":"text","align":"left","baseline":"middle","dy":-2,"font":"Liberation Serif","fontSize":20.5,"color":"#111111"},"encoding":{"x":{"datum":-1.52198,"type":"quantitative","scale":{"domain":[-1.576923,3.565934],"nice":false,"zero":false},"axis":null},"text":{"field":"a","type":"nominal"}}},
 {"mark":{"type":"text","align":"left","baseline":"middle","dy":19,"font":"Liberation Serif","fontSize":20.5,"color":"#111111"},"encoding":{"x":{"datum":-1.37363,"type":"quantitative","scale":{"domain":[-1.576923,3.565934],"nice":false,"zero":false},"axis":null},"text":{"field":"b","type":"nominal"}}},
 {"mark":{"type":"text","align":"right","baseline":"middle","dy":6,"font":"DejaVu Sans","fontSize":22,"fontWeight":"bold","color":"#1a1a1a"},"encoding":{"x":{"datum":3.48901,"type":"quantitative","scale":{"domain":[-1.576923,3.565934],"nice":false,"zero":false},"axis":null},"text":{"field":"c","type":"nominal"}}},
 {"mark":{"type":"rule","color":"#7b1d1d","strokeWidth":2,"yOffset":22},"encoding":{"x":{"datum":3.34615,"type":"quantitative","scale":{"domain":[-1.576923,3.565934],"nice":false,"zero":false},"axis":null},"x2":{"datum":3.48901}}}]}
]
}
